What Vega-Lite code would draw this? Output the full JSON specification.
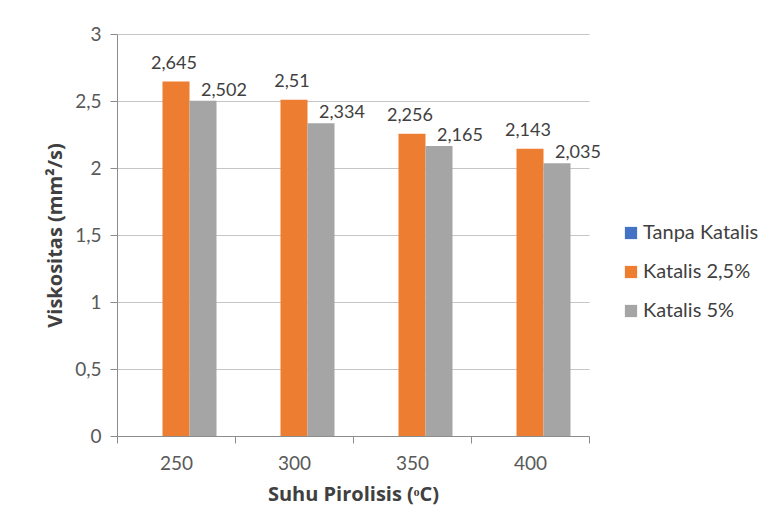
{
  "$schema": "https://vega.github.io/schema/vega-lite/v6.json",
  "width": 472,
  "height": 402,
  "autosize": "none",
  "padding": {"left": 117, "top": 34, "right": 174, "bottom": 90},
  "background": "white",
  "config": {
    "locale": {"number": {"decimal": ",", "thousands": ".", "grouping": [3], "currency": ["", ""]}},
    "font": "Lato",
    "view": {"stroke": null},
    "axis": {
      "labelFont": "Lato",
      "labelFontSize": 19,
      "labelColor": "#595959",
      "titleFont": "Open Sans",
      "titleFontSize": 20,
      "titleFontWeight": "bold",
      "titleColor": "#404040",
      "domainColor": "#8c8c8c",
      "tickColor": "#8c8c8c",
      "gridColor": "#c6c6c6",
      "tickSize": 7
    }
  },
  "data": {
    "values": [
      {"suhu": "250", "seri": "Katalis 2,5%", "viskositas": 2.645},
      {"suhu": "250", "seri": "Katalis 5%", "viskositas": 2.502},
      {"suhu": "300", "seri": "Katalis 2,5%", "viskositas": 2.51},
      {"suhu": "300", "seri": "Katalis 5%", "viskositas": 2.334},
      {"suhu": "350", "seri": "Katalis 2,5%", "viskositas": 2.256},
      {"suhu": "350", "seri": "Katalis 5%", "viskositas": 2.165},
      {"suhu": "400", "seri": "Katalis 2,5%", "viskositas": 2.143},
      {"suhu": "400", "seri": "Katalis 5%", "viskositas": 2.035}
    ]
  },
  "encoding": {
    "x": {
      "field": "suhu",
      "type": "ordinal",
      "scale": {"paddingInner": 0, "paddingOuter": 0},
      "axis": {
        "title": "Suhu Pirolisis (ᵒC)",
        "labelAngle": 0,
        "labelPadding": 11,
        "tickBand": "extent",
        "titlePadding": 11,
        "grid": false
      }
    },
    "xOffset": {
      "field": "seri",
      "type": "nominal",
      "scale": {"domain": ["Tanpa Katalis", "Katalis 2,5%", "Katalis 5%"], "paddingInner": 0, "paddingOuter": 0.685}
    },
    "y": {
      "field": "viskositas",
      "type": "quantitative",
      "scale": {"domain": [0, 3], "nice": false},
      "axis": {
        "title": "Viskositas (mm²/s)",
        "values": [0, 0.5, 1, 1.5, 2, 2.5, 3],
        "format": "~g",
        "labelPadding": 9,
        "titlePadding": 9,
        "grid": true
      }
    }
  },
  "layer": [
    {
      "mark": {"type": "bar"},
      "encoding": {
        "color": {
          "field": "seri",
          "type": "nominal",
          "scale": {"domain": ["Tanpa Katalis", "Katalis 2,5%", "Katalis 5%"], "range": ["#4472c4", "#ed7d31", "#a5a5a5"]},
          "legend": {
            "title": null,
            "orient": "none",
            "legendX": 504,
            "legendY": 189,
            "symbolType": "square",
            "symbolSize": 150,
            "symbolStrokeWidth": 0,
            "labelFont": "Lato",
            "labelFontSize": 20,
            "labelColor": "#404040",
            "rowPadding": 19,
            "labelOffset": 2
          }
        }
      }
    },
    {
      "transform": [{"filter": "datum.seri === 'Katalis 2,5%'"}],
      "mark": {"type": "text", "baseline": "middle", "dy": -18, "dx": -2, "fontSize": 18, "font": "Lato", "color": "#404040"},
      "encoding": {"text": {"field": "viskositas", "type": "quantitative", "format": "~g"}}
    },
    {
      "transform": [{"filter": "datum.seri === 'Katalis 5%'"}],
      "mark": {"type": "text", "baseline": "middle", "dy": -10, "dx": 21, "fontSize": 18, "font": "Lato", "color": "#404040"},
      "encoding": {"text": {"field": "viskositas", "type": "quantitative", "format": "~g"}}
    }
  ]
}
